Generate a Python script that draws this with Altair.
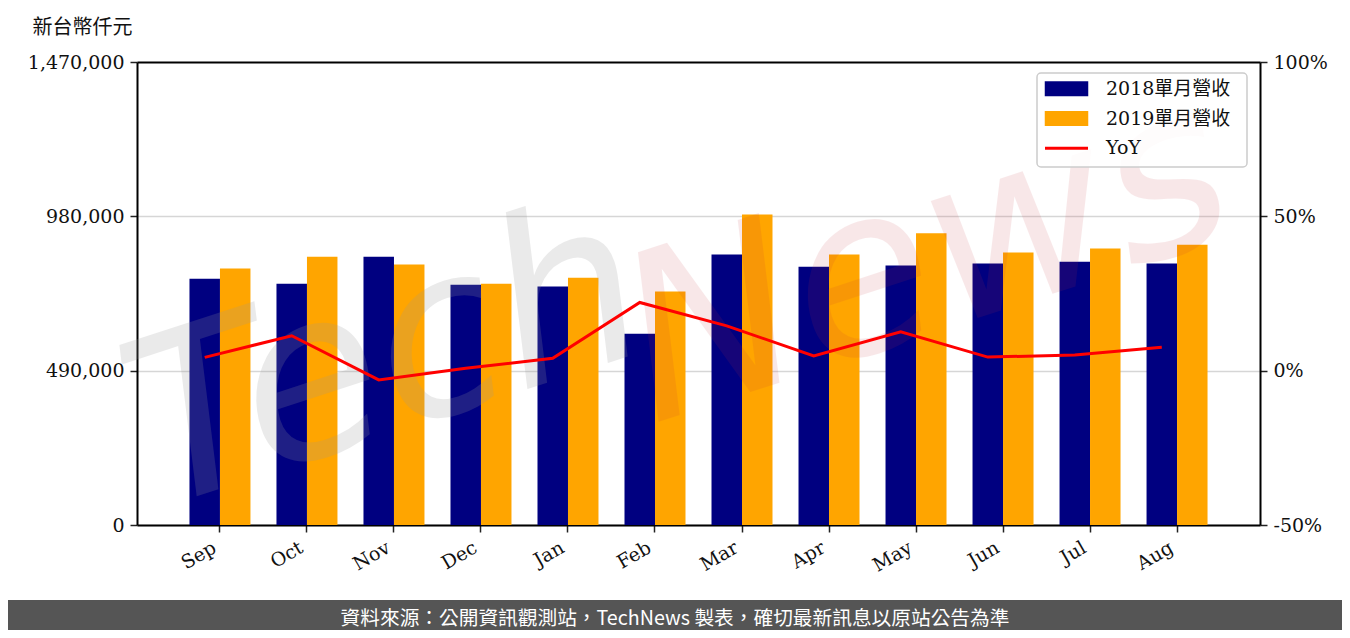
import altair as alt
import pandas as pd

months = ["Sep", "Oct", "Nov", "Dec", "Jan", "Feb", "Mar", "Apr", "May", "Jun", "Jul", "Aug"]
rev_2018 = [782000, 766000, 852000, 763000, 757000, 607000, 859000, 820000, 824000, 830000, 836000, 830000]
rev_2019 = [814000, 852000, 827000, 766000, 785000, 741000, 986000, 859000, 926000, 865000, 878000, 890000]
yoy = [4.3, 11.3, -3.0, 0.8, 4.0, 22.1, 14.5, 4.8, 12.6, 4.4, 5.1, 7.6]

series_names = ["2018單月營收", "2019單月營收", "YoY"]
series_colors = ["#000080", "#FFA500", "#FF0000"]
left_ticks = [0, 490000, 980000, 1470000]
right_ticks = [-50, 0, 50, 100]
unit_label = "新台幣仟元"
footer_text = "資料來源：公開資訊觀測站，TechNews 製表，確切最新訊息以原站公告為準"

bars_df = pd.DataFrame(
    {"month": months * 2,
     "series": [series_names[0]] * 12 + [series_names[1]] * 12,
     "value": rev_2018 + rev_2019}
)
line_df = pd.DataFrame({"month": months, "yoy": yoy, "series": [series_names[2]] * 12})
legend_df = pd.DataFrame({"series": series_names})
one_df = pd.DataFrame({"t": [footer_text]})

W, H = 1123, 463
SERIF = "DejaVu Serif, Noto Sans CJK TC"

color_scale = alt.Scale(domain=series_names, range=series_colors)

x_enc = alt.X("month:N", sort=months,
              scale=alt.Scale(paddingInner=0.299, paddingOuter=0.603),
              axis=alt.Axis(title=None, labelAngle=330, labelAlign="right", labelBaseline="top",
                            labelFont=SERIF, labelFontSize=19, labelColor="#111", labelOffset=-10,
                            tickSize=7, tickWidth=1.5, tickColor="#222", labelPadding=6,
                            domainColor="black", domainWidth=2, grid=False))

bars = alt.Chart(bars_df).mark_bar().encode(
    x=x_enc,
    xOffset=alt.XOffset("series:N", scale=alt.Scale(domain=series_names[:2], paddingInner=0, paddingOuter=0)),
    y=alt.Y("value:Q", scale=alt.Scale(domain=[0, 1470000], nice=False),
            axis=alt.Axis(values=left_ticks, format=",d", title=unit_label, titleAngle=0,
                          titleAlign="left", titleBaseline="middle", titleX=-105, titleY=-35,
                          titleFont="Noto Sans CJK TC", titleFontSize=20, titleFontWeight="normal",
                          titleColor="#111",
                          labelFont=SERIF, labelFontSize=19, labelColor="#111",
                          tickSize=7, tickWidth=1.5, tickColor="#222", labelPadding=6,
                          domainColor="black", domainWidth=2,
                          grid=True,
                          gridColor={"condition": {"test": "datum.value >= 1470000", "value": "black"},
                                     "value": "#d6d6d6"},
                          gridWidth={"condition": {"test": "datum.value >= 1470000", "value": 2},
                                     "value": 1.5})),
    color=alt.Color("series:N", scale=color_scale, legend=None),
)

wm_tech = alt.Chart(one_df).mark_text(
    text="Tech", font="DejaVu Sans", fontSize=230, fontStyle="italic", angle=342,
    align="center", baseline="middle", color="#999999", opacity=0.2,
).encode(x=alt.value(250), y=alt.value(300))
wm_news = alt.Chart(one_df).mark_text(
    text="News", font="DejaVu Sans", fontSize=230, fontStyle="italic", angle=342,
    align="center", baseline="middle", color="#c8323c", opacity=0.11,
).encode(x=alt.value(790), y=alt.value(200))

line = alt.Chart(line_df).mark_line(strokeWidth=3).encode(
    x=alt.X("month:N", sort=months, bandPosition=0.25),
    y=alt.Y("yoy:Q", scale=alt.Scale(domain=[-50, 100], nice=False),
            axis=alt.Axis(orient="right", values=right_ticks, labelExpr="datum.value + '%'",
                          title=None, labelFont=SERIF, labelFontSize=19, labelColor="#111",
                          tickSize=7, tickWidth=1.5, tickColor="#222", labelPadding=6,
                          domainColor="black", domainWidth=2, grid=False)),
    color=alt.Color("series:N", scale=color_scale, legend=None),
)

# legend (manual)
leg_y = alt.Y("series:N", scale=alt.Scale(type="point", domain=series_names, range=[26.8, 86.3], padding=0),
              axis=None)
leg_box = alt.Chart(one_df).mark_rect(fill="white", fillOpacity=0.85, stroke="#cccccc", strokeWidth=1.5,
                                      cornerRadius=4).encode(
    x=alt.value(900), x2=alt.value(1110), y=alt.value(11), y2=alt.value(105))
leg_sym = alt.Chart(legend_df).transform_filter(alt.datum.series != "YoY").mark_point(
    shape="M-2.9,-1H2.9V1H-2.9Z", size=225, filled=True, opacity=1, strokeWidth=0).encode(
    x=alt.value(929.5), y=leg_y, color=alt.Color("series:N", scale=color_scale, legend=None))
leg_line = alt.Chart(legend_df).transform_filter(alt.datum.series == "YoY").mark_rule(
    strokeWidth=3).encode(
    x=alt.value(908), x2=alt.value(951), y=leg_y, color=alt.Color("series:N", scale=color_scale, legend=None))
leg_txt = alt.Chart(legend_df).mark_text(
    font=SERIF, fontSize=19, color="#111", align="left", baseline="middle").encode(
    x=alt.value(969), y=leg_y, text="series:N")

footer_bg = alt.Chart(one_df).mark_rect(color="#555555").encode(
    x=alt.value(-129), x2=alt.value(W + 82), y=alt.value(538), y2=alt.value(570),
)
footer_txt = alt.Chart(one_df).mark_text(
    font="Noto Sans CJK TC", fontSize=19.7, color="white", align="center", baseline="middle"
).encode(text="t:N", x=alt.value(675 - 137), y=alt.value(557))

chart = alt.layer(bars, wm_tech, wm_news, line, leg_box, leg_sym, leg_line, leg_txt,
                  footer_bg, footer_txt).resolve_scale(
    y="independent"
).properties(
    width=W, height=H,
    autosize=alt.AutoSizeParams(type="none"),
    padding={"left": 129, "top": 54, "right": 82, "bottom": 105},
).configure_view(stroke="black", strokeWidth=2).configure(background="white")

chart.save("out.html", embed_options={"renderer": "svg", "actions": False})
